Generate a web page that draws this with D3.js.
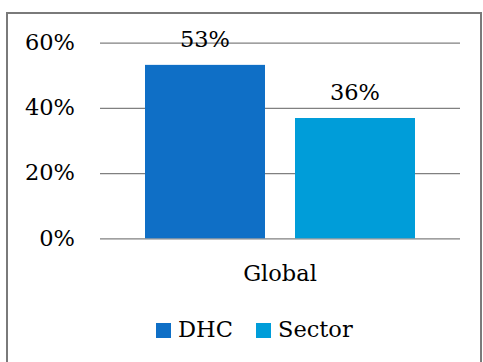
<!DOCTYPE html>
<html>
<head>
<meta charset="utf-8">
<script src="https://cdn.jsdelivr.net/npm/d3@7"></script>
<style>
  html, body { margin: 0; padding: 0; background: #fff; }
  svg { display: block; }
</style>
</head>
<body>
<svg id="chart" width="483" height="362"></svg>
<script>
const categories = ["Global"];
const series = ["DHC", "Sector"];
const values = [53.2, 36.9];
const valueLabels = ["53%", "36%"];
const colors = ["#0F6FC6", "#009DD9"];
const yTicks = [0, 20, 40, 60];
const yTickLabels = ["0%", "20%", "40%", "60%"];

const FONT = "'DejaVu Serif', 'Liberation Serif', serif";
const FS = 22.5;

const svg = d3.select("#chart");

// outer border
svg.append("rect")
  .attr("x", 7).attr("y", 13)
  .attr("width", 474).attr("height", 360)
  .attr("fill", "#fff")
  .attr("stroke", "#7a7a7a")
  .attr("stroke-width", 2);

const y = d3.scaleLinear().domain([0, 60]).range([238.3, 42.7]);
const x0 = d3.scaleBand().domain(categories).range([100, 460])
  .paddingInner(0).paddingOuter(1 / 6);
const x1 = d3.scaleBand().domain(series).range([0, x0.bandwidth()])
  .paddingInner(0.2).paddingOuter(0);

// gridlines
const yAxis = d3.axisLeft(y).tickValues(yTicks)
  .tickSize(-360)
  .tickFormat((d, i) => yTickLabels[i]);
const gAxis = svg.append("g").attr("transform", "translate(100,0)").call(yAxis);
gAxis.attr("font-family", null).attr("font-size", null);
gAxis.select(".domain").remove();
gAxis.selectAll(".tick line").attr("stroke", "#808080").attr("stroke-width", 1.3);
gAxis.selectAll(".tick text")
  .attr("x", -25)
  .attr("dy", "0.3em")
  .style("font-family", FONT)
  .style("font-size", FS + "px")
  .attr("fill", "#000");

// bars
const g = svg.append("g").attr("transform", `translate(${x0(categories[0])},0)`);
g.selectAll("rect.bar").data(series).enter().append("rect")
  .attr("class", "bar")
  .attr("x", d => x1(d))
  .attr("y", (d, i) => y(values[i]))
  .attr("width", x1.bandwidth())
  .attr("height", (d, i) => y(0) - y(values[i]))
  .attr("fill", (d, i) => colors[i]);

// value labels
g.selectAll("text.val").data(series).enter().append("text")
  .attr("class", "val")
  .attr("x", d => x1(d) + x1.bandwidth() / 2)
  .attr("y", (d, i) => y(values[i]) - 18)
  .attr("text-anchor", "middle")
  .style("font-family", FONT)
  .style("font-size", FS + "px")
  .text((d, i) => valueLabels[i]);

// category label
svg.append("text")
  .attr("x", x0(categories[0]) + x0.bandwidth() / 2)
  .attr("y", 281)
  .attr("text-anchor", "middle")
  .style("font-family", FONT)
  .style("font-size", FS + "px")
  .text(categories[0]);

// legend
const legendX = [156, 256];
const leg = svg.append("g");
series.forEach((s, i) => {
  leg.append("rect")
    .attr("x", legendX[i]).attr("y", 323)
    .attr("width", 15).attr("height", 15)
    .attr("fill", colors[i]);
  leg.append("text")
    .attr("x", legendX[i] + 22).attr("y", 337)
    .style("font-family", FONT)
    .style("font-size", FS + "px")
    .text(s);
});
</script>
</body>
</html>
